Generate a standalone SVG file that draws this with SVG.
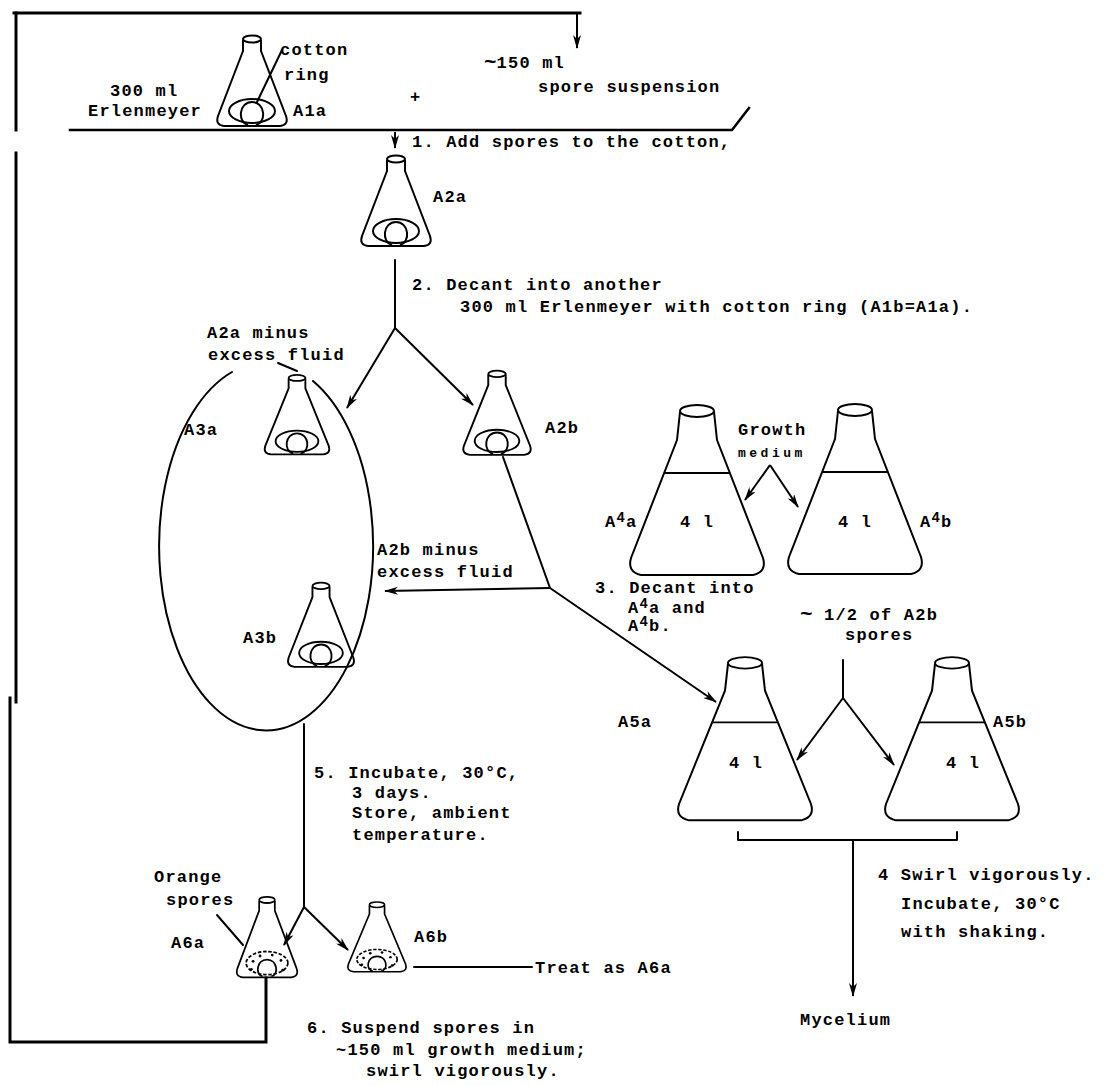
<svg xmlns="http://www.w3.org/2000/svg" xmlns:xlink="http://www.w3.org/1999/xlink" width="1114" height="1086" viewBox="0 0 1114 1086">
<style>
.t{font-family:"Liberation Mono","Courier New",monospace;font-size:17px;font-weight:bold;letter-spacing:1.2px;fill:#000}
.s{font-size:13px;letter-spacing:3.5px}
.tl{font-size:21px;letter-spacing:0}
.ln{fill:none;stroke:#000;stroke-width:2;stroke-linecap:round;stroke-linejoin:round}
.th{fill:none;stroke:#000;stroke-width:3;stroke-linecap:square}
.fl{fill:none;stroke:#000;stroke-width:2;stroke-linejoin:round}
.ar{fill:none;stroke:#000;stroke-width:2;marker-end:url(#ah)}
</style>
<defs>
<marker id="ah" viewBox="0 0 14 8" refX="13" refY="4" markerWidth="14" markerHeight="8" markerUnits="userSpaceOnUse" orient="auto"><path d="M0,0 L14,4 L0,8 L4,4 z" fill="#000"/></marker>
<g id="flaskS">
<ellipse cx="0" cy="1" rx="9" ry="3.5" class="fl"/>
<path class="fl" d="M-9,2 L-9,13 L-34,78 Q-37,87 -28,88 L28,88 Q37,87 34,78 L9,13 L9,2"/>
</g>
<g id="ringS">
<ellipse cx="0" cy="73" rx="23" ry="12" class="fl"/>
<path class="fl" d="M-4,87 C-15,84 -13,64 0,64 C13,64 15,84 4,87"/>
</g>
<g id="sporeS">
<ellipse cx="0" cy="72" rx="24" ry="13" class="fl" stroke-dasharray="4 2"/>
<path class="fl" d="M-5,87 C-14,85 -12,68 0,68 C12,68 14,85 5,87"/>
<g fill="#000"><circle cx="-16" cy="70" r="1.6"/><circle cx="-8" cy="64" r="1.6"/><circle cx="6" cy="63" r="1.6"/><circle cx="16" cy="69" r="1.6"/><circle cx="-18" cy="79" r="1.6"/><circle cx="18" cy="80" r="1.6"/></g>
</g>
<g id="flaskL">
<ellipse cx="0" cy="3" rx="17" ry="6" class="fl"/>
<path class="fl" d="M-17,4 L-20,32 L-66,150 Q-70,164 -56,167 L56,167 Q70,164 66,150 L20,32 L17,4"/>
<path class="fl" d="M-33,65 H33"/>
</g>
</defs>

<g id="connectors">
<path class="th" d="M14,13 H580"/>
<path class="th" d="M16,13 V130 M16,153 V702 M10,698 V1042 H266 V978"/>
<path class="ar" d="M577,14 V48"/>
<path class="th" d="M70,130 H732 L749,108" style="stroke-width:2.5"/>
<path class="ar" d="M395,132 V148"/>
<path class="ln" d="M395,260 V328"/>
<path class="ar" d="M395,328 L347,408"/>
<path class="ar" d="M395,328 L473,405"/>
<path class="ln" d="M278,363 L297,371"/>
<path class="ln" d="M232,372 A107,184 0 1,0 313,381"/>
<path class="ln" d="M503,457 L550,588"/>
<path class="ar" d="M550,588 L385,591"/>
<path class="ar" d="M550,588 L716,702"/>
<path class="ar" d="M770,465 L745,500"/>
<path class="ar" d="M770,465 L798,507"/>
<path class="ln" d="M843,660 V698"/>
<path class="ar" d="M843,698 L797,760"/>
<path class="ar" d="M843,698 L894,765"/>
<path class="ln" d="M738,832 V840 H957 V832"/>
<path class="ar" d="M853,840 V996"/>
<path class="ln" d="M304,724 V907"/>
<path class="ar" d="M304,907 L284,945"/>
<path class="ar" d="M304,907 L348,950"/>
<path class="ln" d="M217,915 L243,945"/>
<path class="ln" d="M414,967 H532"/>
<path class="ln" d="M282,50 L257,102"/>
</g>

<g id="A1a">
<use xlink:href="#flaskS" transform="translate(252,38)"/>
<use xlink:href="#ringS" transform="translate(252,38)"/>
<text class="t" x="280" y="55">cotton</text>
<text class="t" x="284" y="80">ring</text>
<text class="t" x="110" y="96">300 ml</text>
<text class="t" x="88" y="116">Erlenmeyer</text>
<text class="t" x="293" y="116">A1a</text>
</g>
<g id="plus"><text class="t" x="410" y="102">+</text></g>
<g id="spore-suspension">
<text class="t" x="484" y="68"><tspan class="tl">~</tspan>150 ml</text>
<text class="t" x="538" y="92">spore suspension</text>
</g>
<g id="step1"><text class="t" x="412" y="147">1. Add spores to the cotton,</text></g>
<g id="A2a">
<use xlink:href="#flaskS" transform="translate(396,158)"/>
<use xlink:href="#ringS" transform="translate(396,158)"/>
<text class="t" x="433" y="202">A2a</text>
</g>
<g id="step2">
<text class="t" x="412" y="290">2. Decant into another</text>
<text class="t" x="460" y="312">300 ml Erlenmeyer with cotton ring (A1b=A1a).</text>
</g>
<g id="A3a">
<use xlink:href="#flaskS" transform="translate(297,377) scale(0.93,0.88)"/>
<use xlink:href="#ringS" transform="translate(297,377) scale(0.93,0.88)"/>
<text class="t" x="207" y="338">A2a minus</text>
<text class="t" x="208" y="360">excess fluid</text>
<text class="t" x="184" y="435">A3a</text>
</g>
<g id="A2b">
<use xlink:href="#flaskS" transform="translate(497,373) scale(0.97,0.93)"/>
<use xlink:href="#ringS" transform="translate(497,373) scale(0.97,0.93)"/>
<text class="t" x="545" y="433">A2b</text>
</g>
<g id="A3b">
<use xlink:href="#flaskS" transform="translate(321,585) scale(0.95,0.93)"/>
<use xlink:href="#ringS" transform="translate(321,585) scale(0.95,0.93)"/>
<text class="t" x="377" y="555">A2b minus</text>
<text class="t" x="377" y="577">excess fluid</text>
<text class="t" x="243" y="643">A3b</text>
</g>
<g id="A4a">
<use xlink:href="#flaskL" transform="translate(697,408)"/>
<text class="t" x="697" y="527" text-anchor="middle">4 l</text>
<text class="t" x="605" y="527">A<tspan dy="-5" font-size="14">4</tspan><tspan dy="5">a</tspan></text>
</g>
<g id="A4b">
<use xlink:href="#flaskL" transform="translate(855,407)"/>
<text class="t" x="855" y="527" text-anchor="middle">4 l</text>
<text class="t" x="920" y="527">A<tspan dy="-5" font-size="14">4</tspan><tspan dy="5">b</tspan></text>
</g>
<g id="growth-medium">
<text class="t" x="738" y="435">Growth</text>
<text class="t s" x="738" y="457">medium</text>
</g>
<g id="step3">
<text class="t" x="595" y="593">3. Decant into</text>
<text class="t" x="628" y="613">A<tspan dy="-5" font-size="14">4</tspan><tspan dy="5">a and</tspan></text>
<text class="t" x="628" y="631">A<tspan dy="-5" font-size="14">4</tspan><tspan dy="5">b.</tspan></text>
</g>
<g id="half-spores">
<text class="t" x="800" y="620"><tspan class="tl">~</tspan> 1/2 of A2b</text>
<text class="t" x="845" y="640">spores</text>
</g>
<g id="A5a">
<use xlink:href="#flaskL" transform="translate(745,660) scale(1,0.96)"/>
<text class="t" x="746" y="768" text-anchor="middle">4 l</text>
<text class="t" x="618" y="727">A5a</text>
</g>
<g id="A5b">
<use xlink:href="#flaskL" transform="translate(952,660) scale(1,0.96)"/>
<text class="t" x="963" y="768" text-anchor="middle">4 l</text>
<text class="t" x="993" y="727">A5b</text>
</g>
<g id="step4">
<text class="t" x="878" y="880">4 Swirl vigorously.</text>
<text class="t" x="901" y="909">Incubate, 30°C</text>
<text class="t" x="901" y="937">with shaking.</text>
</g>
<g id="mycelium"><text class="t" x="800" y="1025">Mycelium</text></g>
<g id="step5">
<text class="t" x="314" y="778">5. Incubate, 30°C,</text>
<text class="t" x="352" y="798">3 days.</text>
<text class="t" x="352" y="818">Store, ambient</text>
<text class="t" x="352" y="840">temperature.</text>
</g>
<g id="A6a">
<use xlink:href="#flaskS" transform="translate(267,899) scale(0.87,0.89)"/>
<use xlink:href="#sporeS" transform="translate(267,899) scale(0.87,0.89)"/>
<text class="t" x="154" y="882">Orange</text>
<text class="t" x="166" y="905">spores</text>
<text class="t" x="171" y="948">A6a</text>
</g>
<g id="A6b">
<use xlink:href="#flaskS" transform="translate(377,904) scale(0.84,0.77)"/>
<use xlink:href="#sporeS" transform="translate(377,904) scale(0.84,0.77)"/>
<text class="t" x="414" y="942">A6b</text>
</g>
<g id="treat"><text class="t" x="535" y="973">Treat as A6a</text></g>
<g id="step6">
<text class="t" x="307" y="1033">6. Suspend spores in</text>
<text class="t" x="336" y="1055">~150 ml growth medium;</text>
<text class="t" x="366" y="1076">swirl vigorously.</text>
</g>
</svg>
